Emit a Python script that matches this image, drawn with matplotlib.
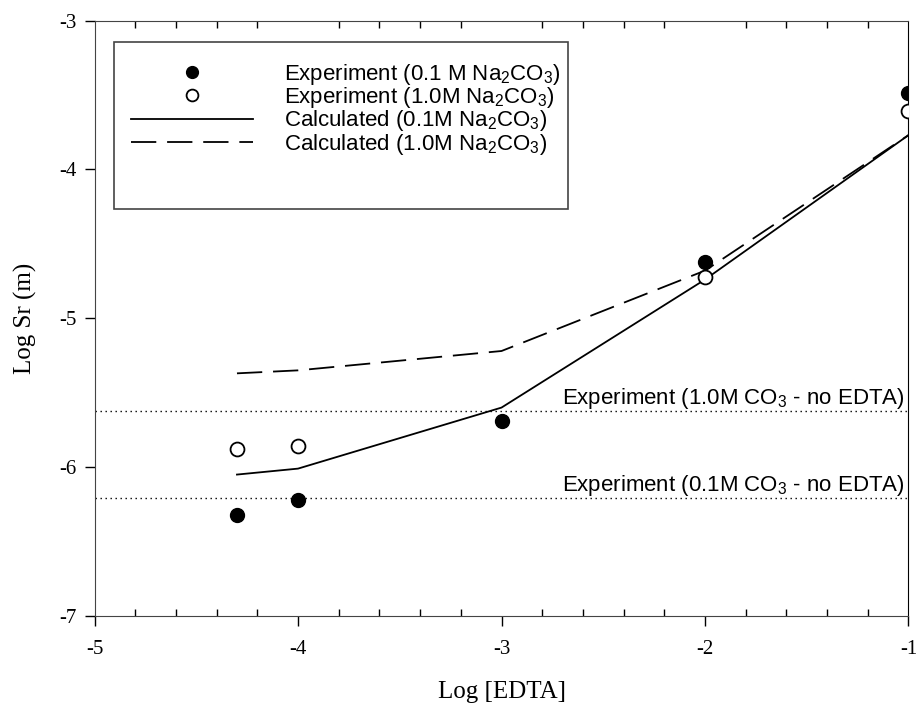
import matplotlib
matplotlib.use("Agg")
import matplotlib.pyplot as plt
from matplotlib.patches import Rectangle
from matplotlib.ticker import MultipleLocator

plt.rcParams['axes.unicode_minus'] = False
plt.rcParams['mathtext.fontset'] = 'custom'
plt.rcParams['mathtext.rm'] = 'Liberation Sans'
plt.rcParams['mathtext.it'] = 'Liberation Sans:italic'

# data
edta_exp = [-4.3, -4.0, -3.0, -2.0, -1.0]
sr_exp_01 = [-6.32, -6.22, -5.69, -4.62, -3.49]
edta_exp_10 = [-4.3, -4.0, -2.0, -1.0]
sr_exp_10 = [-5.88, -5.86, -4.72, -3.61]

edta_calc = [-4.3, -4.0, -3.0, -2.0, -1.0]
sr_calc_01 = [-6.05, -6.01, -5.60, -4.74, -3.77]
sr_calc_10 = [-5.37, -5.35, -5.22, -4.68, -3.77]

noedta_10 = -5.62
noedta_01 = -6.21

fig = plt.figure(figsize=(9.16, 7.10), dpi=100)
ax = fig.add_axes([0.1032, 0.1324, 0.8886, 0.8387])

ax.plot(edta_exp, sr_exp_01, 'o', color='black', ms=10, label='Experiment (0.1 M Na$_2$CO$_3$)', zorder=4)
ax.plot(edta_exp_10, sr_exp_10, 'o', mfc='white', mec='black', mew=1.3, ms=10,
        label='Experiment (1.0M Na$_2$CO$_3$)', zorder=4)
ax.plot(edta_calc, sr_calc_01, '-', color='black', lw=1.3, label='Calculated (0.1M Na$_2$CO$_3$)')
ax.plot(edta_calc, sr_calc_10, color='black', lw=1.3, dashes=(14, 6),
        label='Calculated (1.0M Na$_2$CO$_3$)')

ax.axhline(noedta_10, color='black', lw=1, ls=(0, (1, 2.6)))
ax.axhline(noedta_01, color='black', lw=1, ls=(0, (1, 2.6)))
ax.text(-1.02, noedta_10, 'Experiment (1.0M CO$_3$ - no EDTA)', ha='right', va='bottom',
        fontsize=16, family='Liberation Sans')
ax.text(-1.02, noedta_01, 'Experiment (0.1M CO$_3$ - no EDTA)', ha='right', va='bottom',
        fontsize=16, family='Liberation Sans')

ax.set_xlim(-5, -1)
ax.set_ylim(-7, -3)
ax.xaxis.set_major_locator(MultipleLocator(1))
ax.xaxis.set_minor_locator(MultipleLocator(0.2))
ax.yaxis.set_major_locator(MultipleLocator(1))

ax.tick_params(which='major', direction='out', length=7, width=1, labelsize=15)
ax.tick_params(which='minor', direction='in', length=5, width=1, top=True)
ax.tick_params(axis='x', which='major', pad=10)
ax.tick_params(axis='y', which='major', pad=6)
for lab in ax.get_xticklabels() + ax.get_yticklabels():
    lab.set_family('Liberation Serif')

for side in ['left', 'bottom', 'top']:
    ax.spines[side].set_color('#444444')
ax.spines['right'].set_color('black')

ax.set_xlabel('Log [EDTA]', fontsize=18, family='Liberation Serif', labelpad=16)
ax.set_ylabel('Log Sr (m)', fontsize=18, family='Liberation Serif', labelpad=16)

leg = ax.legend(loc='upper left', bbox_to_anchor=(0.0448, 0.931), frameon=False,
                prop={'family': 'Liberation Sans', 'size': 16},
                handlelength=5.5, handletextpad=1.4, labelspacing=-0.07,
                markerscale=0.85, borderpad=0, borderaxespad=0)
ax.add_patch(Rectangle((0.024, 0.6835), 0.558, 0.2809, transform=ax.transAxes,
                       fill=False, ec='#444444', lw=1.2, zorder=5))

fig.savefig('out.png', dpi=100)
